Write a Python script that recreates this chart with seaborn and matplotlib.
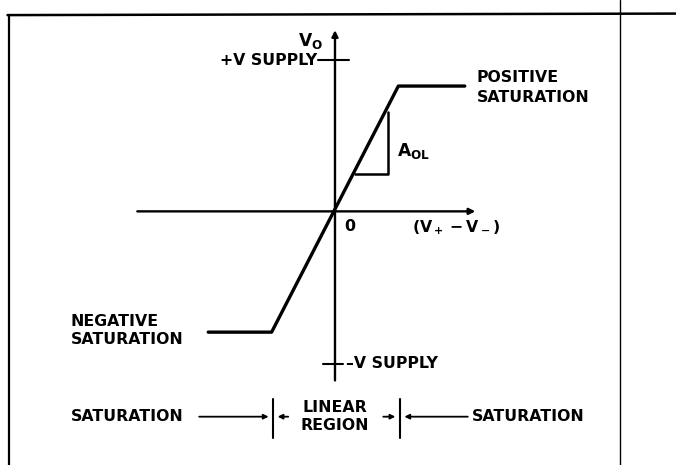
import matplotlib
matplotlib.use("Agg")
import matplotlib.pyplot as plt
import numpy as np
import pandas as pd
import seaborn as sns

# transfer characteristic (schematic units: 1.0 = supply voltage)
curve_x = [-0.84, -0.42, 0.42, 0.86]
curve_y = [-0.80, -0.80, 0.83, 0.83]

# slope triangle for A_OL
tri_x = [0.35, 0.35, 0.13]
tri_y = [0.66, 0.25, 0.25]

supply_levels = [1.0, -1.01]
supply_labels = ["+V SUPPLY", "–V SUPPLY"]

axis_x = [-1.31, 0.93]
axis_y = [-1.12, 1.20]

region_edges = [-0.41, 0.43]
region_labels = ["SATURATION", "LINEAR\nREGION", "SATURATION"]

sns.set_style("white")
plt.rcParams["font.family"] = ["DejaVu Sans"]
plt.rcParams["font.weight"] = "bold"
plt.rcParams["text.color"] = "black"
plt.rcParams["mathtext.fontset"] = "dejavusans"

fig = plt.figure(figsize=(6.76, 4.65), dpi=100)
ax = fig.add_axes([0, 0, 1, 1])
ax.set_xlim(-2.22, 2.26)
ax.set_ylim(-1.68, 1.40)
ax.axis("off")

fs = 11.3
k = "black"

# frame
ax.plot([-2.16, -2.16], [-1.68, 1.30], color=k, lw=1.6)
ax.plot([-2.17, 2.26], [1.30, 1.31], color=k, lw=1.8)
ax.plot([1.89, 1.89], [-1.68, 1.40], color=k, lw=1.0)

# axes with arrows
ax.annotate("", xy=(axis_x[1], 0), xytext=(axis_x[0], 0),
            arrowprops=dict(arrowstyle="-|>", color=k, lw=1.7, mutation_scale=9,
                            shrinkA=0, shrinkB=0))
ax.annotate("", xy=(0, axis_y[1]), xytext=(0, axis_y[0]),
            arrowprops=dict(arrowstyle="-|>", color=k, lw=1.7, mutation_scale=9,
                            shrinkA=0, shrinkB=0))

# transfer curve
df = pd.DataFrame({"x": curve_x, "y": curve_y})
sns.lineplot(data=df, x="x", y="y", sort=False, estimator=None, color=k, lw=2.4, ax=ax)
sns.lineplot(x=tri_x, y=tri_y, sort=False, estimator=None, color=k, lw=1.8, ax=ax)

# supply ticks
ax.plot([-0.11, 0.09], [supply_levels[0]] * 2, color=k, lw=1.5)
ax.text(-0.115, supply_levels[0], supply_labels[0], ha="right", va="center", fontsize=fs)
ax.plot([-0.08, 0.05], [supply_levels[1]] * 2, color=k, lw=1.5)
ax.text(0.07, supply_levels[1], supply_labels[1], ha="left", va="center", fontsize=fs)

# labels
ax.text(-0.08, 1.13, r"$\mathbf{V_O}$", ha="right", va="center", fontsize=fs + 1)
ax.text(0.10, -0.10, "0", ha="center", va="center", fontsize=fs)
ax.text(0.80, -0.11, r"$\mathbf{(V_+ - V_-)}$", ha="center", va="center", fontsize=fs)
ax.text(0.41, 0.40, r"$\mathbf{A_{OL}}$", ha="left", va="center", fontsize=fs + 1)
ax.text(0.94, 0.82, "POSITIVE\nSATURATION", ha="left", va="center", fontsize=fs,
        linespacing=1.35)
ax.text(-1.75, -0.79, "NEGATIVE\nSATURATION", ha="left", va="center", fontsize=fs,
        linespacing=1.3)

# region bar at the bottom
yb = -1.36
for xe in region_edges:
    ax.plot([xe, xe], [-1.24, -1.50], color=k, lw=1.5)
ax.text(-1.75, yb, region_labels[0], ha="left", va="center", fontsize=fs)
ax.text(0.0, yb, region_labels[1], ha="center", va="center", fontsize=fs, linespacing=1.3)
ax.text(0.91, yb, region_labels[2], ha="left", va="center", fontsize=fs)

arw = dict(arrowstyle="-|>", color=k, lw=1.3, mutation_scale=7, shrinkA=0, shrinkB=0)
ax.annotate("", xy=(region_edges[0] - 0.03, yb), xytext=(-0.90, yb), arrowprops=arw)
ax.annotate("", xy=(region_edges[0] + 0.03, yb), xytext=(-0.31, yb), arrowprops=arw)
ax.annotate("", xy=(region_edges[1] - 0.03, yb), xytext=(0.32, yb), arrowprops=arw)
ax.annotate("", xy=(region_edges[1] + 0.03, yb), xytext=(0.88, yb), arrowprops=arw)

fig.savefig("out.png", dpi=100)
